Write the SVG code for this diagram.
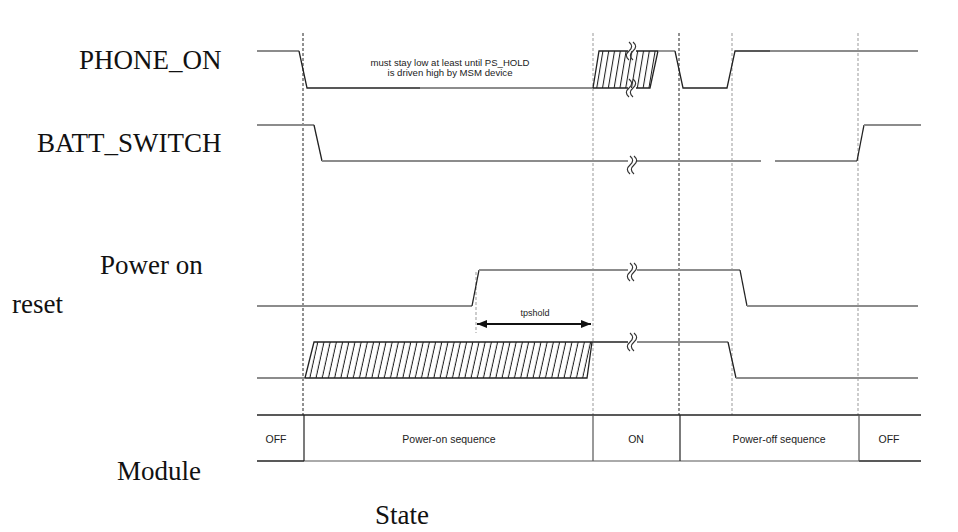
<svg xmlns="http://www.w3.org/2000/svg" width="958" height="532" viewBox="0 0 958 532">
<style>
.lbl{font-family:"Liberation Serif","Times New Roman",serif;font-size:27px;fill:#111}
.sm{font-family:"Liberation Sans",Arial,sans-serif;font-size:9px;fill:#222}
.tb{font-family:"Liberation Sans",Arial,sans-serif;font-size:10.5px;fill:#222;text-anchor:middle}
.g{fill:none;stroke:#8c8c8c;stroke-width:1.8}
.d{fill:none;stroke:#222;stroke-width:1.3}
.vd{fill:none;stroke:#222;stroke-width:1;stroke-dasharray:3 2}
.vg{fill:none;stroke:#999;stroke-width:1;stroke-dasharray:3 2}
.brk{fill:none;stroke:#333;stroke-width:1.2}
</style>
<defs>
<pattern id="hatchA" width="6.2" height="10" patternUnits="userSpaceOnUse" patternTransform="skewX(-12.5)">
<line x1="3" y1="0" x2="3" y2="10" stroke="#111" stroke-width="1"/>
</pattern>
<pattern id="hatchB" width="5.8" height="10" patternUnits="userSpaceOnUse" patternTransform="skewX(-9.5)">
<line x1="2.5" y1="0" x2="2.5" y2="10" stroke="#111" stroke-width="1"/>
</pattern>
<marker id="ah" markerWidth="10" markerHeight="8" refX="10" refY="4" orient="auto-start-reverse" markerUnits="userSpaceOnUse">
<path d="M0,0 L10,4 L0,8 Z" fill="#111"/>
</marker>
<path id="brkS" d="M0,-9 c3.5,3 3.5,6 0,9 c-3.5,3 -3.5,6 0,9"/>
</defs>

<g id="labels">
<text class="lbl" x="79" y="69">PHONE_ON</text>
<text class="lbl" x="37" y="152">BATT_SWITCH</text>
<text class="lbl" x="100" y="274">Power on</text>
<text class="lbl" x="12" y="313">reset</text>
<text class="lbl" x="117" y="480">Module</text>
<text class="lbl" x="375" y="524">State</text>
</g>

<g id="gridlines">
<line class="vd" x1="303" y1="33" x2="303" y2="415"/>
<line class="vg" x1="593" y1="33" x2="593" y2="415"/>
<line class="vd" x1="679" y1="33" x2="679" y2="415"/>
<line class="vg" x1="732" y1="33" x2="732" y2="415"/>
<line class="vg" x1="858" y1="33" x2="858" y2="415"/>
<line class="vg" x1="476" y1="272" x2="476" y2="333"/>
</g>

<g id="phone_on">
<polygon points="593,88 599,51 658,51 650,88" fill="url(#hatchB)"/>
<path class="g" d="M257,51 H299"/>
<path class="d" d="M299,51 L307,88 H420"/>
<path class="g" d="M420,88 H593"/>
<path class="d" d="M593,88 L599,51 H628 M636,51 H658 L650,88 H636 M628,88 H593"/>
<path class="g" d="M658,51 H675"/>
<path class="d" d="M675,51 L683,88 H727 L735,51 H770"/>
<path class="g" d="M770,51 H918"/>
<use href="#brkS" class="brk" x="629" y="51"/>
<use href="#brkS" class="brk" x="633" y="51"/>
<use href="#brkS" class="brk" x="629" y="88"/>
<use href="#brkS" class="brk" x="633" y="88"/>
<text class="sm" x="450" y="66" text-anchor="middle" textLength="159" lengthAdjust="spacingAndGlyphs">must stay low at least until PS_HOLD</text>
<text class="sm" x="450" y="76" text-anchor="middle" textLength="125" lengthAdjust="spacingAndGlyphs">is driven high by MSM device</text>
</g>

<g id="batt_switch">
<path class="g" d="M257,125 H314"/>
<path class="d" d="M314,125 L322,161"/>
<path class="g" d="M322,161 H628 M636,161 H761 M775,161 H857"/>
<path class="d" d="M857,161 L864,125"/>
<path class="g" d="M864,125 H921"/>
<use href="#brkS" class="brk" x="630" y="165"/>
<use href="#brkS" class="brk" x="634" y="165"/>
</g>

<g id="power_on_reset">
<path class="g" d="M257,306 H472"/>
<path class="d" d="M472,306 L479,270"/>
<path class="g" d="M479,270 H628 M637,270 H740"/>
<path class="d" d="M740,270 L747,306"/>
<path class="g" d="M747,306 H918"/>
<use href="#brkS" class="brk" x="630" y="272"/>
<use href="#brkS" class="brk" x="634" y="272"/>
</g>

<g id="tpshold">
<line x1="477" y1="324" x2="591" y2="324" stroke="#111" stroke-width="1.8" marker-start="url(#ah)" marker-end="url(#ah)"/>
<text class="sm" x="535" y="316" text-anchor="middle">tpshold</text>
</g>

<g id="signal4">
<polygon points="305,378 314,342 592,342 587,378" fill="url(#hatchA)"/>
<path class="g" d="M257,378 H305"/>
<path class="d" d="M305,378 L314,342 H628 M592,342 L587,378 H305"/>
<path class="g" d="M637,342 H728"/>
<path class="d" d="M728,342 L736,378"/>
<path class="g" d="M736,378 H918"/>
<use href="#brkS" class="brk" x="630" y="342"/>
<use href="#brkS" class="brk" x="634" y="342"/>
</g>

<g id="state_table">
<line x1="257" y1="415" x2="921" y2="415" stroke="#222" stroke-width="1.5"/>
<line x1="257" y1="461" x2="304" y2="461" stroke="#222" stroke-width="1.5"/>
<line x1="304" y1="461" x2="859" y2="461" stroke="#aaa" stroke-width="2"/>
<line x1="859" y1="461" x2="921" y2="461" stroke="#222" stroke-width="1.5"/>
<line x1="304" y1="415" x2="304" y2="461" stroke="#222" stroke-width="1.2"/>
<line x1="593" y1="415" x2="593" y2="461" stroke="#555" stroke-width="1.2"/>
<line x1="680" y1="415" x2="680" y2="461" stroke="#222" stroke-width="1.2"/>
<line x1="859" y1="415" x2="859" y2="461" stroke="#555" stroke-width="1.2"/>
<text class="tb" x="276" y="443">OFF</text>
<text class="tb" x="449" y="443">Power-on sequence</text>
<text class="tb" x="636" y="443">ON</text>
<text class="tb" x="779" y="443">Power-off sequence</text>
<text class="tb" x="889" y="443">OFF</text>
</g>
</svg>
